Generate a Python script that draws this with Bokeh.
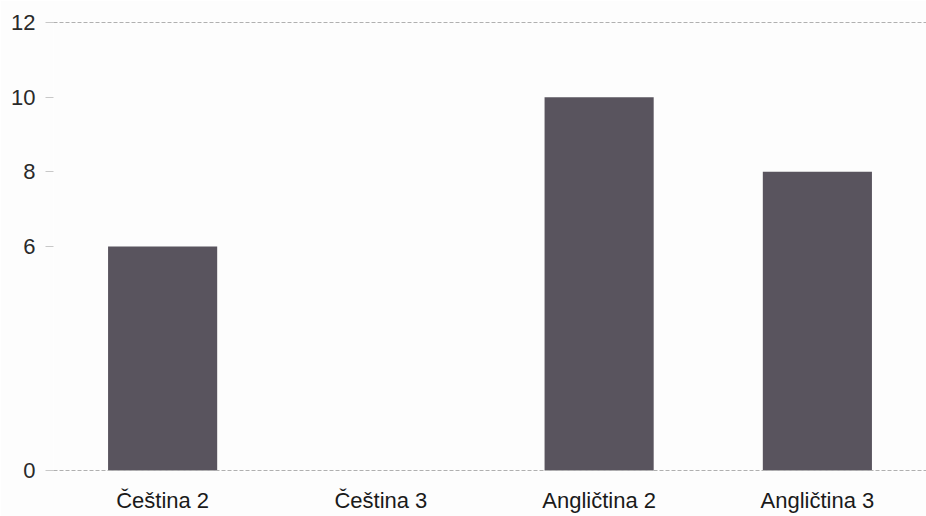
from bokeh.plotting import figure
from bokeh.models import FactorRange, Range1d, FixedTicker, ColumnDataSource
from bokeh.embed import file_html
from bokeh.resources import INLINE

categories = ["Čeština 2", "Čeština 3", "Angličtina 2", "Angličtina 3"]
values = [6, 0, 10, 8]
y_ticks = [0, 6, 8, 10, 12]

src = ColumnDataSource(data=dict(cat=categories, val=values))

p = figure(width=926, height=516, x_range=FactorRange(*categories, range_padding=0),
           y_range=Range1d(-0.03, 12.03), output_backend="svg", toolbar_location=None,
           min_border_left=53, min_border_right=0, min_border_top=21, min_border_bottom=45)
p.outline_line_color = None
p.background_fill_color = "#fdfdfd"
p.border_fill_color = "#fdfdfd"

p.vbar(x="cat", top="val", width=0.5, source=src, fill_color="#59545e", line_color=None)

p.xgrid.grid_line_color = None
p.ygrid.ticker = FixedTicker(ticks=[0, 12])
p.ygrid.grid_line_color = "#b0b0b0"
p.ygrid.grid_line_dash = "4 2"
p.ygrid.grid_line_width = 1
p.ygrid.level = "overlay"

p.yaxis.ticker = FixedTicker(ticks=y_ticks)
p.yaxis.axis_line_color = None
p.yaxis.major_tick_line_color = "#c8c8c8"
p.yaxis.major_tick_out = 8
p.yaxis.major_tick_in = 0
p.yaxis.minor_tick_line_color = None
p.yaxis.major_label_standoff = 10
p.yaxis.major_label_text_font = "Liberation Sans"
p.yaxis.major_label_text_font_size = "22px"
p.yaxis.major_label_text_color = "#2a2a2a"

p.xaxis.axis_line_color = None
p.xaxis.major_tick_line_color = None
p.xaxis.major_label_standoff = 10
p.xaxis.major_label_text_font = "Liberation Sans"
p.xaxis.major_label_text_font_size = "22px"
p.xaxis.major_label_text_color = "#1a1a1a"

open("out.html", "w").write(file_html(p, INLINE))
